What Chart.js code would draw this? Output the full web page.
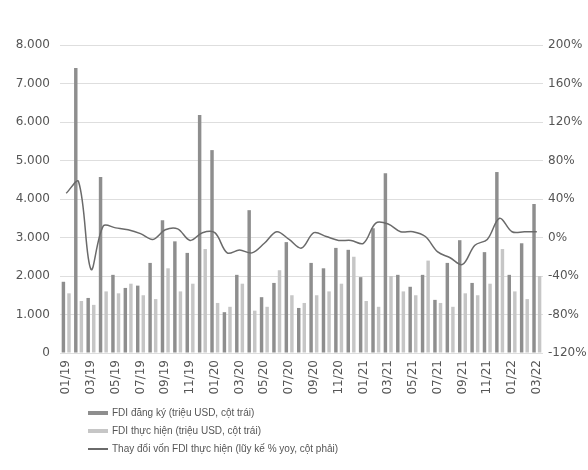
<!DOCTYPE html>
<html>
<head>
<meta charset="utf-8">
<script src="https://cdn.jsdelivr.net/npm/chart.js@4"></script>
<style>
  html,body{margin:0;padding:0;background:#fff;}
  #wrap{position:relative;width:588px;height:470px;}
  #c{position:absolute;left:0;top:0;}
  #legend{position:absolute;left:88px;top:404px;font-family:"Liberation Sans",Arial,sans-serif;font-size:10px;color:#555;}
  .row{height:18px;line-height:18px;display:flex;align-items:center;}
  .sym{display:inline-block;width:20px;margin-right:4px;}
</style>
</head>
<body>
<div id="wrap">
  <canvas id="c" width="588" height="405"></canvas>
  <div id="legend"></div>
</div>
<script>
const months = ['01/19','02/19','03/19','04/19','05/19','06/19','07/19','08/19','09/19','10/19','11/19','12/19',
  '01/20','02/20','03/20','04/20','05/20','06/20','07/20','08/20','09/20','10/20','11/20','12/20',
  '01/21','02/21','03/21','04/21','05/21','06/21','07/21','08/21','09/21','10/21','11/21','12/21',
  '01/22','02/22','03/22'];
const fdiRegistered = [1850,7400,1430,4570,2030,1690,1750,2340,3450,2900,2600,6180,
  5270,1060,2030,3710,1450,1820,2880,1170,2340,2200,2730,2680,
  1970,3240,4670,2030,1720,2030,1380,2340,2930,1820,2620,4700,
  2030,2850,3870];
const fdiRealized = [1550,1350,1250,1600,1550,1800,1500,1400,2200,1600,1800,2700,
  1300,1200,1800,1100,1200,2150,1500,1300,1500,1600,1800,2500,
  1350,1200,2000,1600,1500,2400,1300,1200,1550,1500,1800,2700,
  1600,1400,2000];
const realizedYoY = [46,58,-33,12,10,8,4,-2,8,9,-3,5,
  5,-16,-13,-16,-6,6,-2,-11,5,1,-3,-3,
  -6,15,14,6,6,1,-15,-21,-28,-8,-2,20,
  6,6,6];
const leftTicks = [0,1000,2000,3000,4000,5000,6000,7000,8000];
const rightTicks = [-120,-80,-40,0,40,80,120,160,200];
const legendLabels = ['FDI đăng ký (triệu USD, cột trái)','FDI thực hiện (triệu USD, cột trái)','Thay đổi vốn FDI thực hiện (lũy kế % yoy, cột phải)'];

const colReg = '#8e8e8e', colReal = '#c6c6c6', colLine = '#6a6a6a';
const tickFont = {family:'"DejaVu Sans", sans-serif', size:12};

new Chart(document.getElementById('c'), {
  data: {
    labels: months,
    datasets: [
      {type:'line', label:legendLabels[2], data:realizedYoY, yAxisID:'y1', borderColor:colLine, borderWidth:1.5, pointRadius:0, tension:0.35, order:0},
      {type:'bar', label:legendLabels[0], data:fdiRegistered, yAxisID:'y', backgroundColor:colReg, categoryPercentage:0.9, barPercentage:0.62, order:1},
      {type:'bar', label:legendLabels[1], data:fdiRealized, yAxisID:'y', backgroundColor:colReal, categoryPercentage:0.9, barPercentage:0.62, order:1}
    ]
  },
  options: {
    responsive:false, animation:false,
    layout:{padding:{top:45,left:0,right:0,bottom:0}},
    plugins:{legend:{display:false}, tooltip:{enabled:false}},
    scales:{
      x:{
        offset:true,
        grid:{display:false, drawTicks:false},
        border:{display:false},
        ticks:{autoSkip:false, maxRotation:90, minRotation:90, padding:7, color:'#555', font:tickFont,
          callback:function(v,i){ return i%2===0 ? months[i] : ''; }},
        afterFit:function(s){ s.height = 52; }
      },
      y:{
        position:'left', min:0, max:8000,
        afterBuildTicks:function(s){ s.ticks = leftTicks.map(v=>({value:v})); },
        grid:{color:'#dedede', drawTicks:false},
        border:{display:false},
        ticks:{padding:10, color:'#555', font:tickFont,
          callback:function(v){ return v===0 ? '0' : String(v).replace(/\B(?=(\d{3})+(?!\d))/g,'.'); }},
        afterFit:function(s){ s.width = 60; }
      },
      y1:{
        position:'right', min:-120, max:200,
        afterBuildTicks:function(s){ s.ticks = rightTicks.map(v=>({value:v})); },
        grid:{display:false, drawTicks:false},
        border:{display:false},
        ticks:{padding:5, color:'#555', font:tickFont, callback:function(v){ return v+'%'; }},
        afterFit:function(s){ s.width = 45; }
      }
    }
  }
});

const lg = document.getElementById('legend');
const syms = [
  '<span class="sym" style="height:4px;background:'+colReg+'"></span>',
  '<span class="sym" style="height:4px;background:'+colReal+'"></span>',
  '<span class="sym" style="height:1.5px;background:'+colLine+'"></span>'
];
legendLabels.forEach(function(t,i){
  const d = document.createElement('div'); d.className='row';
  d.innerHTML = syms[i] + '<span>'+t+'</span>';
  lg.appendChild(d);
});
</script>
</body>
</html>
